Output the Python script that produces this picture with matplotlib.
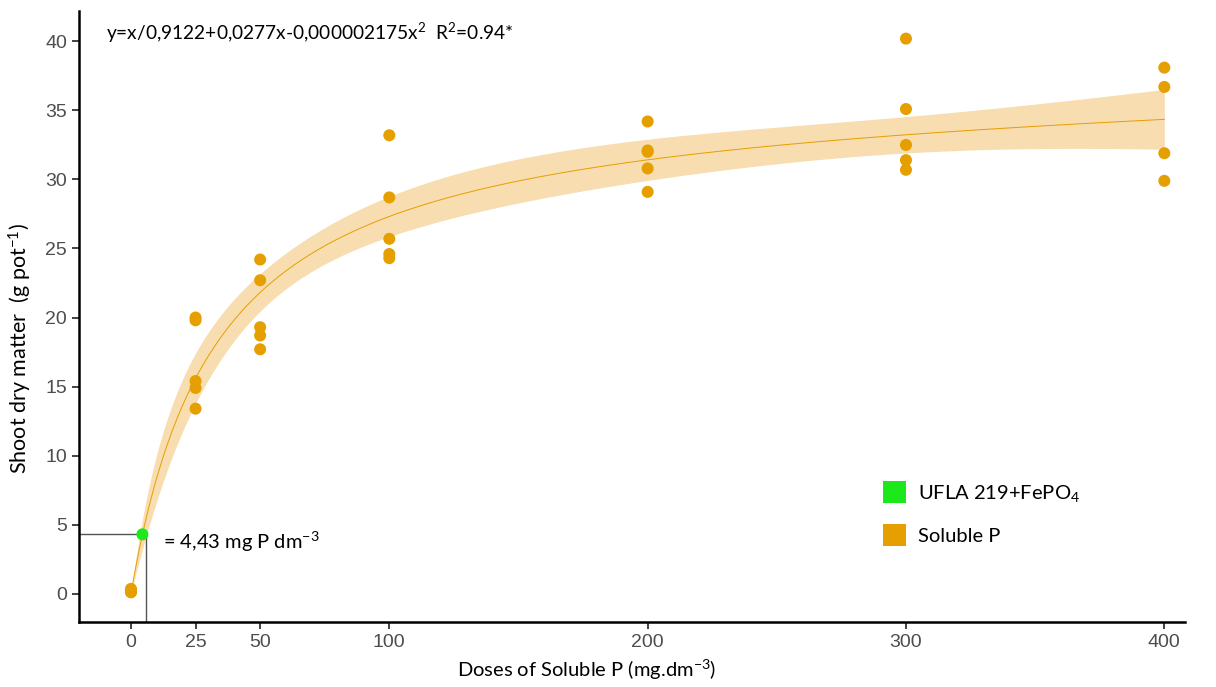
import numpy as np
import matplotlib
matplotlib.use("Agg")
import matplotlib.pyplot as plt
from matplotlib.patches import Patch

# ---- data ----
dose = [0, 0, 0, 0,
        25, 25, 25, 25, 25,
        50, 50, 50, 50, 50,
        100, 100, 100, 100, 100,
        200, 200, 200, 200, 200,
        300, 300, 300, 300, 300,
        400, 400, 400, 400]
shoot = [0.35, 0.25, 0.1, 0.15,
         20.0, 19.8, 15.4, 14.9, 13.4,
         24.2, 22.7, 19.3, 18.7, 17.7,
         33.2, 28.7, 25.7, 24.6, 24.3,
         34.2, 32.1, 32.0, 30.8, 29.1,
         40.2, 35.1, 32.5, 31.4, 30.7,
         38.1, 36.7, 31.9, 29.9]

# fitted model coefficients (from the equation shown)
a_coef, b_coef, c_coef = 0.9122, 0.0277, -0.000002175
ufla_x, ufla_y = 4.43, 4.3
xticks = [0, 25, 50, 100, 200, 300, 400]
yticks = [0, 5, 10, 15, 20, 25, 30, 35, 40]

ORANGE = "#E69F00"
BAND = "#F8DDB0"
GREEN = "#1CE81C"

plt.rcParams['font.family'] = ['Lato', 'DejaVu Sans']
plt.rcParams['mathtext.fontset'] = 'custom'
plt.rcParams['mathtext.rm'] = 'Lato'
plt.rcParams['mathtext.it'] = 'Lato:italic'
plt.rcParams['mathtext.bf'] = 'Lato:bold'
plt.rcParams['mathtext.default'] = 'regular'

fig = plt.figure(figsize=(12.16, 6.87), dpi=100)
ax = fig.add_axes([0.065, 0.0946, 0.9095, 0.8894])

# model curve and confidence band (delta method)
x = np.asarray(dose, float)
y = np.asarray(shoot, float)
p = np.array([a_coef, b_coef, c_coef])

def model(xx, pp):
    return xx / (pp[0] + pp[1] * xx + pp[2] * xx ** 2)

def jac(xx, pp):
    d = pp[0] + pp[1] * xx + pp[2] * xx ** 2
    g = -xx / d ** 2
    return np.column_stack([g, g * xx, g * xx ** 2])

res = y - model(x, p)
s2 = np.sum(res ** 2) / (len(x) - 3)
J = jac(x, p)
cov = s2 * np.linalg.inv(J.T @ J)
xs = np.linspace(0, 400, 400)
ys = model(xs, p)
Js = jac(xs, p)
se = np.sqrt(np.einsum('ij,jk,ik->i', Js, cov, Js))
hw = 1.7 * se
ax.fill_between(xs, ys - hw, ys + hw, color=BAND, lw=0, zorder=1)
ax.plot(xs, ys, color=ORANGE, lw=0.7, zorder=2)

ax.scatter(dose, shoot, s=75, color=ORANGE, edgecolor='none', zorder=3)

# UFLA point with guide lines
ax.plot([-20.1, ufla_x], [ufla_y, ufla_y], color='#555555', lw=1, zorder=2)
ax.plot([ufla_x + 1.2, ufla_x + 1.2], [-2.05, ufla_y], color='#555555', lw=1, zorder=2)
ax.scatter([ufla_x], [ufla_y], s=75, color=GREEN, edgecolor='none', zorder=4)
ax.text(12.5, ufla_y - 0.55, "= 4,43 mg P dm$^{-3}$", fontsize=14.5, va='center', ha='left')

ax.text(-9.5, 40.6, r"y=x/0,9122+0,0277x-0,000002175x$^{2}$  R$^{2}$=0.94*",
        fontsize=13.8, va='center', ha='left')

ax.set_xlim(-20.1, 408)
ax.set_ylim(-2.05, 42.2)
ax.set_xticks(xticks)
ax.set_yticks(yticks)
ax.tick_params(axis='both', labelsize=14, labelcolor='#4D4D4D', color='#333333',
               width=1.3, length=5)
for lab in ax.get_xticklabels() + ax.get_yticklabels():
    lab.set_family(['Liberation Sans', 'DejaVu Sans'])
ax.spines['top'].set_visible(False)
ax.spines['right'].set_visible(False)
ax.spines['left'].set_linewidth(1.8)
ax.spines['bottom'].set_linewidth(1.8)
ax.set_xlabel("Doses of Soluble P (mg.dm$^{-3}$)", fontsize=14.5)
ax.set_ylabel("Shoot dry matter  (g pot$^{-1}$)", fontsize=15.5)
ax.xaxis.set_label_coords(0.459, -0.058)
ax.yaxis.set_label_coords(-0.041, 0.448)

handles = [Patch(facecolor=GREEN, edgecolor='none', label="UFLA 219+FePO$_4$"),
           Patch(facecolor=ORANGE, edgecolor='none', label="Soluble P")]
ax.legend(handles=handles, loc='upper left', bbox_to_anchor=(0.711, 0.26),
          frameon=False, fontsize=14.5, handlelength=1.1, handleheight=1.3,
          handletextpad=0.6, labelspacing=1.0)

fig.savefig("out.png", dpi=100)
